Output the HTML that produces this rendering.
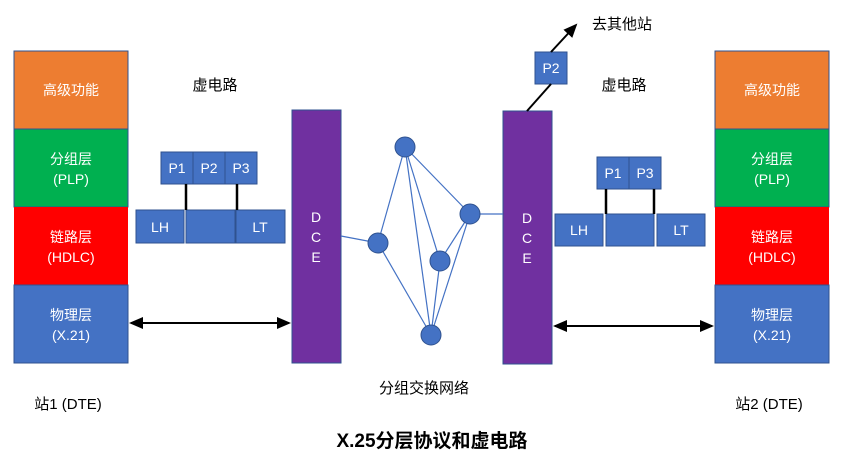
<!DOCTYPE html><html><head><meta charset="utf-8"><style>body{margin:0;background:#fff}text{font-family:"Liberation Sans","Noto Sans CJK SC",sans-serif}</style></head><body>
<svg width="844" height="464" xmlns="http://www.w3.org/2000/svg">
<defs><marker id="a" markerWidth="8" markerHeight="8" refX="6" refY="4" orient="auto-start-reverse"><path d="M0,1 L7,4 L0,7z" fill="#000"/></marker></defs>
<g stroke="#2f528f" stroke-width="1">
<rect x="14" y="51" width="114" height="78" fill="#ed7d31"/><rect x="14" y="129" width="114" height="78" fill="#00b050"/><rect x="14" y="207" width="114" height="78" fill="#ff0000" stroke="none"/><rect x="14" y="285" width="114" height="78" fill="#4472c4"/>
<rect x="715" y="51" width="114" height="78" fill="#ed7d31"/><rect x="715" y="129" width="114" height="78" fill="#00b050"/><rect x="715" y="207" width="114" height="78" fill="#ff0000" stroke="none"/><rect x="715" y="285" width="114" height="78" fill="#4472c4"/>
<rect x="292" y="110" width="49" height="253" fill="#7030a0"/><rect x="503" y="111" width="49" height="253" fill="#7030a0"/>
</g>
<g fill="#fff" font-size="14" text-anchor="middle">
<text x="71" y="95">高级功能</text><text x="71" y="164">分组层</text><text x="71" y="184">(PLP)</text><text x="71" y="242">链路层</text><text x="71" y="262">(HDLC)</text><text x="71" y="320">物理层</text><text x="71" y="340">(X.21)</text>
<text x="772" y="95">高级功能</text><text x="772" y="164">分组层</text><text x="772" y="184">(PLP)</text><text x="772" y="242">链路层</text><text x="772" y="262">(HDLC)</text><text x="772" y="320">物理层</text><text x="772" y="340">(X.21)</text>
<text x="316" y="222">D</text><text x="316" y="242">C</text><text x="316" y="262">E</text>
<text x="527" y="223">D</text><text x="527" y="243">C</text><text x="527" y="263">E</text>
</g>
<g stroke="#4472c4" stroke-width="1.2">
<line x1="341" y1="236" x2="378" y2="243"/><line x1="470" y1="214" x2="503" y2="214"/>
<line x1="405" y1="147" x2="378" y2="243"/><line x1="405" y1="147" x2="470" y2="214"/><line x1="405" y1="147" x2="440" y2="261"/><line x1="405" y1="147" x2="431" y2="335"/>
<line x1="378" y1="243" x2="431" y2="335"/><line x1="440" y1="261" x2="470" y2="214"/><line x1="440" y1="261" x2="431" y2="335"/><line x1="470" y1="214" x2="431" y2="335"/>
</g>
<g fill="#4472c4" stroke="#2f528f"><circle cx="405" cy="147" r="10"/><circle cx="378" cy="243" r="10"/><circle cx="440" cy="261" r="10"/><circle cx="470" cy="214" r="10"/><circle cx="431" cy="335" r="10"/>
<rect x="161" y="152" width="32" height="32"/><rect x="193" y="152" width="32" height="32"/><rect x="225" y="152" width="32" height="32"/>
<rect x="136" y="210" width="48" height="33"/><rect x="186" y="210" width="49" height="33"/><rect x="236" y="210" width="49" height="33"/>
<rect x="597" y="157" width="32" height="32"/><rect x="629" y="157" width="32" height="32"/>
<rect x="555" y="214" width="48" height="32"/><rect x="606" y="214" width="48" height="32"/><rect x="657" y="214" width="48" height="32"/>
<rect x="535" y="52" width="32" height="32"/></g>
<g stroke="#000" stroke-width="2.5"><line x1="186" y1="184" x2="186" y2="210"/><line x1="237" y1="184" x2="237" y2="210"/><line x1="606" y1="189" x2="606" y2="214"/><line x1="654" y1="189" x2="654" y2="214"/></g>
<g stroke="#000" stroke-width="2"><line x1="527" y1="111" x2="551" y2="84"/><line x1="551" y1="52" x2="576" y2="25" marker-end="url(#a)"/>
<line x1="131" y1="323" x2="289" y2="323" marker-start="url(#a)" marker-end="url(#a)"/><line x1="555" y1="326" x2="712" y2="326" marker-start="url(#a)" marker-end="url(#a)"/></g>
<g fill="#fff" font-size="14" text-anchor="middle"><text x="177" y="173">P1</text><text x="209" y="173">P2</text><text x="241" y="173">P3</text><text x="160" y="232">LH</text><text x="260" y="232">LT</text>
<text x="613" y="178">P1</text><text x="645" y="178">P3</text><text x="579" y="235">LH</text><text x="681" y="235">LT</text><text x="551" y="73">P2</text></g>
<g font-size="15" fill="#000" text-anchor="middle"><text x="215" y="90">虚电路</text><text x="624" y="90">虚电路</text><text x="622" y="29">去其他站</text><text x="424" y="393">分组交换网络</text>
<text x="68" y="409">站1 (DTE)</text><text x="769" y="409">站2 (DTE)</text><text x="432" y="447" font-size="19" font-weight="bold">X.25分层协议和虚电路</text></g>
</svg></body></html>
